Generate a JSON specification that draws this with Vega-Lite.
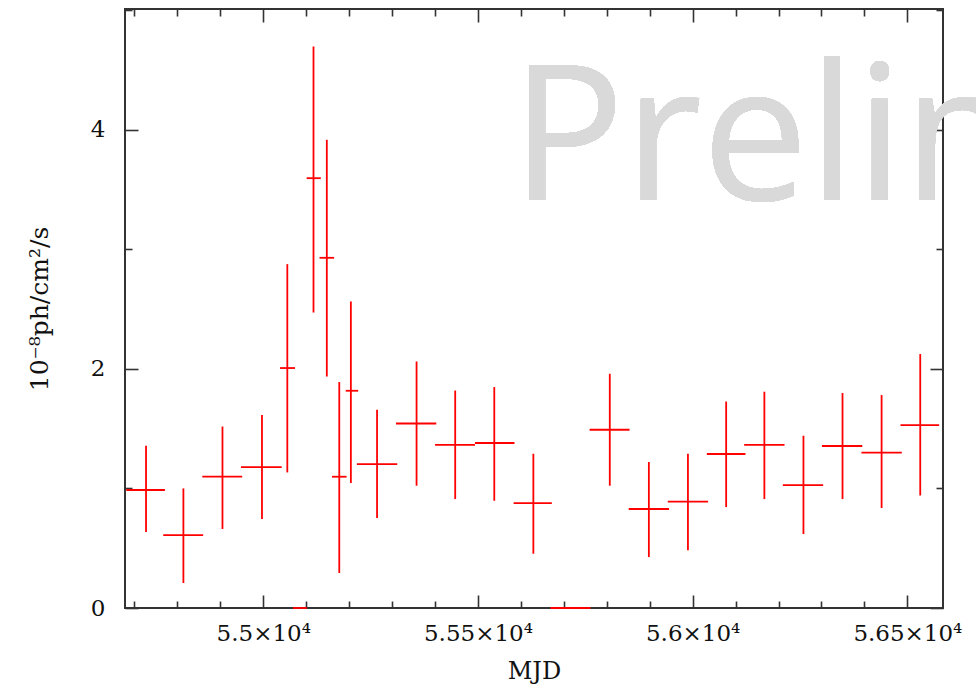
{
  "$schema": "https://vega.github.io/schema/vega-lite/v6.json",
  "autosize": {"type": "none"},
  "width": 818,
  "height": 599,
  "padding": {"left": 125, "top": 9, "right": 33, "bottom": 81},
  "background": "white",
  "config": {
    "view": {"stroke": "#333333", "strokeWidth": 2},
    "axis": {
      "domain": false,
      "grid": false,
      "tickColor": "#333333",
      "tickWidth": 1.6,
      "labelFont": "DejaVu Serif",
      "labelFontSize": 23,
      "labelColor": "#111111",
      "titleFont": "DejaVu Serif",
      "titleFontSize": 24,
      "titleFontWeight": "normal",
      "titleColor": "#111111"
    }
  },
  "data": {
    "values": [
      {"mjd": 54727, "lo": 54681, "hi": 54771, "flux": 0.987, "flo": 0.636, "fhi": 1.357},
      {"mjd": 54814, "lo": 54767, "hi": 54860, "flux": 0.610, "flo": 0.209, "fhi": 1.000},
      {"mjd": 54905, "lo": 54858, "hi": 54951, "flux": 1.098, "flo": 0.661, "fhi": 1.518},
      {"mjd": 54997, "lo": 54948, "hi": 55043, "flux": 1.179, "flo": 0.744, "fhi": 1.614},
      {"mjd": 55056, "lo": 55039, "hi": 55074, "flux": 2.007, "flo": 1.134, "fhi": 2.876},
      {"mjd": 55086, "lo": 55069, "hi": 55102, "flux": 0, "flo": 0, "fhi": 0},
      {"mjd": 55117, "lo": 55101, "hi": 55134, "flux": 3.595, "flo": 2.472, "fhi": 4.696},
      {"mjd": 55148, "lo": 55131, "hi": 55165, "flux": 2.929, "flo": 1.936, "fhi": 3.916},
      {"mjd": 55177, "lo": 55160, "hi": 55194, "flux": 1.098, "flo": 0.293, "fhi": 1.890},
      {"mjd": 55204, "lo": 55192, "hi": 55221, "flux": 1.817, "flo": 1.045, "fhi": 2.564},
      {"mjd": 55265, "lo": 55218, "hi": 55312, "flux": 1.204, "flo": 0.753, "fhi": 1.658},
      {"mjd": 55357, "lo": 55309, "hi": 55403, "flux": 1.543, "flo": 1.023, "fhi": 2.062},
      {"mjd": 55447, "lo": 55400, "hi": 55493, "flux": 1.365, "flo": 0.911, "fhi": 1.819},
      {"mjd": 55538, "lo": 55493, "hi": 55585, "flux": 1.380, "flo": 0.897, "fhi": 1.848},
      {"mjd": 55629, "lo": 55583, "hi": 55672, "flux": 0.878, "flo": 0.454, "fhi": 1.290},
      {"mjd": 55716, "lo": 55669, "hi": 55762, "flux": 0, "flo": 0, "fhi": 0},
      {"mjd": 55807, "lo": 55760, "hi": 55853, "flux": 1.491, "flo": 1.023, "fhi": 1.959},
      {"mjd": 55898, "lo": 55851, "hi": 55945, "flux": 0.828, "flo": 0.426, "fhi": 1.221},
      {"mjd": 55989, "lo": 55942, "hi": 56036, "flux": 0.889, "flo": 0.482, "fhi": 1.290},
      {"mjd": 56078, "lo": 56033, "hi": 56123, "flux": 1.288, "flo": 0.844, "fhi": 1.727},
      {"mjd": 56167, "lo": 56120, "hi": 56214, "flux": 1.365, "flo": 0.911, "fhi": 1.809},
      {"mjd": 56258, "lo": 56210, "hi": 56304, "flux": 1.028, "flo": 0.619, "fhi": 1.441},
      {"mjd": 56349, "lo": 56301, "hi": 56395, "flux": 1.355, "flo": 0.911, "fhi": 1.798},
      {"mjd": 56440, "lo": 56393, "hi": 56487, "flux": 1.299, "flo": 0.836, "fhi": 1.781},
      {"mjd": 56530, "lo": 56484, "hi": 56574, "flux": 1.530, "flo": 0.941, "fhi": 2.124}
    ]
  },
  "layer": [
    {
      "mark": {"type": "rule", "color": "#ff0000", "strokeWidth": 1.8},
      "encoding": {
        "x": {
          "field": "lo", "type": "quantitative",
          "scale": {"domain": [54678, 56583], "nice": false, "zero": false},
          "axis": {
            "orient": "bottom",
            "title": "MJD",
            "values": [54700, 54800, 54900, 55000, 55100, 55200, 55300, 55400, 55500, 55600, 55700, 55800, 55900, 56000, 56100, 56200, 56300, 56400, 56500],
            "tickSize": {"condition": {"test": "datum.value % 500 === 0", "value": -13}, "value": -7},
            "labelPadding": 27,
            "labelExpr": "datum.value % 500 === 0 ? (datum.value / 10000) + '×10⁴' : ''",
            "titlePadding": 14
          }
        },
        "x2": {"field": "hi"},
        "y": {
          "field": "flux", "type": "quantitative",
          "scale": {"domain": [0, 5.01], "nice": false},
          "axis": {
            "orient": "left",
            "title": "10⁻⁸ph/cm²/s",
            "titleFontSize": 25,
            "values": [0, 1, 2, 3, 4, 5],
            "tickSize": {"condition": {"test": "datum.value % 2 === 0", "value": -13}, "value": -7},
            "labelPadding": 33,
            "labelExpr": "datum.value % 2 === 0 ? datum.label : ''",
            "titlePadding": 38
          }
        }
      }
    },
    {
      "mark": {"type": "rule", "color": "#ff0000", "strokeWidth": 1.8},
      "encoding": {
        "x": {
          "field": "mjd", "type": "quantitative",
          "axis": {
            "orient": "top",
            "title": null,
            "labels": false,
            "values": [54700, 54800, 54900, 55000, 55100, 55200, 55300, 55400, 55500, 55600, 55700, 55800, 55900, 56000, 56100, 56200, 56300, 56400, 56500],
            "tickSize": {"condition": {"test": "datum.value % 500 === 0", "value": -13}, "value": -7}
          }
        },
        "y": {
          "field": "flo", "type": "quantitative",
          "axis": {
            "orient": "right",
            "title": null,
            "labels": false,
            "values": [0, 1, 2, 3, 4, 5],
            "tickSize": {"condition": {"test": "datum.value % 2 === 0", "value": -13}, "value": -7}
          }
        },
        "y2": {"field": "fhi"}
      }
    },
    {
      "mark": {"type": "text", "clip": false, "font": "Open Sans", "fontSize": 189, "color": "#d9d9d9", "align": "left", "baseline": "alphabetic"},
      "encoding": {
        "x": {"datum": 55577, "type": "quantitative", "axis": null},
        "y": {"datum": 3.415, "type": "quantitative", "axis": null},
        "text": {"value": "Preliminary"}
      }
    }
  ],
  "resolve": {"axis": {"x": "independent", "y": "independent"}}
}
